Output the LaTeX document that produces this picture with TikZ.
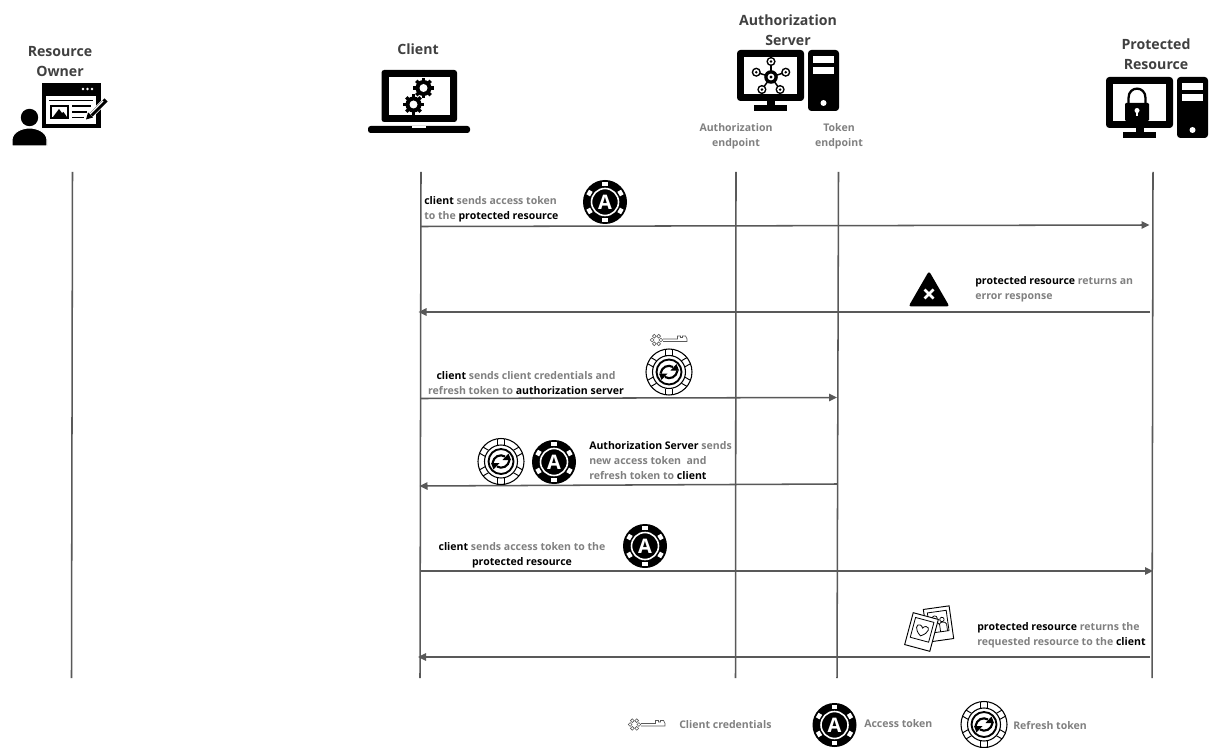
\documentclass[tikz,border=0pt]{standalone}
\usepackage{fontspec}
\setmainfont{Open Sans}
\usetikzlibrary{arrows.meta}
\definecolor{linegray}{HTML}{595959}
\definecolor{txtgray}{HTML}{808080}
\definecolor{titlegray}{HTML}{404040}
\newcommand{\kw}[1]{\textcolor{black}{#1}}
\tikzset{
  lifeline/.style={draw=linegray,line width=1.15pt},
  msg/.style={draw=linegray,line width=1.15pt,-{Triangle[length=6pt,width=5.6pt]}},
  title/.style={text=titlegray,align=center,inner sep=0pt,font=\fontsize{10.6}{15.4}\selectfont\bfseries},
  note/.style={text=txtgray,inner sep=0pt,font=\fontsize{7.9}{11.3}\selectfont\bfseries},
  notel/.style={note,align=left},
  notec/.style={note,align=center},
  pics/access/.style={code={
    \fill[black] (0,0) circle (22);
    \draw[white,line width=1.2pt] (0,0) circle (13.5);
    \foreach \a in {30,90,...,330}{\fill[white,rotate=\a] (15.8,-2.6) rectangle (20,2.6);}
    \node[text=white,inner sep=0pt,font=\fontsize{15}{15}\selectfont\bfseries] at (0,0) {A};
  }},
  pics/refresh/.style={code={
    \draw[black,fill=white,line width=.8pt] (0,0) circle (23);
    \draw[black,line width=.8pt] (0,0) circle (16.5);
    \draw[black,line width=1.4pt] (0,0) circle (12.5);
    \foreach \a in {30,90,...,330}{\draw[black,line width=.7pt,rotate=\a] (16.5,-3.5) -- (23,-3.5) (16.5,3.5) -- (23,3.5);}
    \foreach \r in {0,180}{
      \begin{scope}[rotate=\r]
      \draw[black,line width=1.6pt] (-8.5,1.5) .. controls (-7.5,-5) and (-1,-8) .. (4,-5);
      \fill[black] (1.5,-1.5) -- (10,-1.5) -- (7.5,-8) -- cycle;
      \end{scope}}
  }},
  pics/keyicon/.style={code={
    \foreach \a in {0,60,...,300}{\draw[linegray,line width=.45pt,fill=white] (\a:4.4) circle (1.9);}
    \draw[linegray,line width=.5pt] (6.5,-1) -- (21,-1) -- (21,-4) -- (24,-4) -- (24,-2.5) -- (26,-2.5) -- (26,-4) -- (29,-4) -- (30.5,-1) -- (30.5,1.5) -- (6.5,1.5);
  }},
  pics/gear/.style={code={
    \foreach \a in {0,45,...,315}{\draw[black,line width=2.5pt,rotate=\a] (5,0) -- (10.2,0);}
    \fill[black] (0,0) circle (8);
    \fill[white] (0,0) circle (4);
  }},
  pics/desktop/.style={code={
    \fill[black,rounded corners=2.5pt] (0,0) rectangle (67,51);
    \fill[white] (7,7) rectangle (60,44);
    \fill[black] (30,51) rectangle (38,56);
    \fill[black] (17,55) rectangle (50,61);
    \fill[black,rounded corners=2.5pt] (71,0) rectangle (102,61);
    \fill[white] (76,6) rectangle (97,13);
    \fill[white] (76,17) rectangle (97,24);
    \fill[white] (86.5,53) circle (3);
  }},
}
\begin{document}
\begin{tikzpicture}[x=0.75pt,y=-0.75pt]
\path[use as bounding box,fill=white] (0,0) rectangle (1223,748);

% lifeline ends
\coordinate (roT) at (72.5,172);  \coordinate (roB) at (71.5,678);
\coordinate (cT)  at (421,172);   \coordinate (cB)  at (420,678);
\coordinate (aeT) at (736,172);   \coordinate (aeB) at (735.5,678);
\coordinate (teT) at (838.5,172); \coordinate (teB) at (837,678);
\coordinate (prT) at (1153,172);  \coordinate (prB) at (1152,678);
\draw[lifeline] (roT) -- (roB);
\draw[lifeline] (cT) -- (cB);
\draw[lifeline] (aeT) -- (aeB);
\draw[lifeline] (teT) -- (teB);
\draw[lifeline] (prT) -- (prB);

% messages
\coordinate (m1a) at (421,226.5); \coordinate (m1b) at (1149.5,225);
\coordinate (m2a) at (1150,312);  \coordinate (m2b) at (418.5,312);
\coordinate (m3a) at (421,398.5); \coordinate (m3b) at (837,397.5);
\coordinate (m4a) at (837,484);   \coordinate (m4b) at (419.5,486);
\coordinate (m5a) at (420,571);   \coordinate (m5b) at (1153,571);
\coordinate (m6a) at (1150,657);  \coordinate (m6b) at (418,657);
\draw[msg] (m1a) -- (m1b);
\draw[msg] (m2a) -- (m2b);
\draw[msg] (m3a) -- (m3b);
\draw[msg] (m4a) -- (m4b);
\draw[msg] (m5a) -- (m5b);
\draw[msg] (m6a) -- (m6b);

% titles
\node[title] (tRO) at (60,61.5) {Resource\\Owner};
\node[title] (tC)  at (418,49) {Client};
\node[title] (tAS) at (788,30) {Authorization\\Server};
\node[title] (tPR) at (1156,54) {Protected\\Resource};
\node[notec] (tAE) at (736,136) {Authorization\\endpoint};
\node[notec] (tTE) at (839,136) {Token\\endpoint};

% resource owner icon
\fill[black] (42,83) rectangle (101,128);
\fill[white] (46,96) rectangle (96,124);
\fill[white] (83,89) circle (1.3) (87.5,89) circle (1.3) (92,89) circle (1.3);
\draw[black,line width=1.3pt] (49,100.5) -- (93,100.5) (72,106) -- (91,106) (72,112) -- (87,112) (72,117.5) -- (84,117.5);
\fill[black] (50,105) rectangle (69,119.5);
\fill[white] (52,107) rectangle (67,117.5);
\fill[black] (53,117) -- (59,109) -- (62,113) -- (63.5,112) -- (67,117) -- cycle;
\draw[white,line width=4.4pt] (88,118) -- (106,100);
\draw[black,line width=3.4pt] (91,115) -- (106,100);
\draw[white,line width=1pt] (90,114) -- (103,101);
\fill[black] (86,119.5) -- (88,112.5) -- (93,117.5) -- cycle;
\fill[black,draw=white,line width=.8pt] (12,146) -- (12,140) .. controls (12,132) and (22,128) .. (29.5,128) .. controls (37,128) and (47,132) .. (47,140) -- (47,146) -- cycle;
\fill[black] (29.5,117.5) circle (8.7);

% client icon
\fill[black,rounded corners=2pt] (381.5,70) rectangle (457,122);
\fill[white] (388.5,77) rectangle (450,115);
\fill[black,rounded corners=2pt] (368,126) rectangle (470,133);
\fill[white] (412,126) rectangle (426,128);
\pic at (423.5,88) {gear};
\pic at (413.5,104.5) {gear};

% authorization server icon
\pic at (737,50) {desktop};
\coordinate (nc) at (771,77);
\foreach \a in {90,162,234,306,18}{
  \draw[black,line width=1.1pt] (nc) -- ++(\a+180:15.5);
  \fill[black] (nc) ++(\a+180:15.5) circle (4.6);
  \fill[white] (nc) ++(\a+180:15.5) circle (3);
  \fill[black] (nc) ++(\a+180:15.5) circle (1.4);
}
\fill[black] (nc) circle (6.8);
\fill[white] (nc) circle (3.4);
\fill[black] (nc) circle (1.7);

% protected resource icon
\pic at (1106,77) {desktop};
\draw[black,line width=1.7pt] (1128.5,106) -- (1128.5,98) .. controls (1128.5,85.5) and (1145.5,85.5) .. (1145.5,98) -- (1145.5,106);
\fill[black,rounded corners=.8pt] (1125,103) rectangle (1149,121);
\fill[white] (1137,110.5) circle (2.5);
\fill[white] (1136,110.5) rectangle (1138,116.5);

% message 1
\node[notel,anchor=west] (n1) at (424,209.5) {\kw{client} sends access token\\to the \kw{protected resource}};
\pic at (605,202) {access};

% message 2
\fill[black,rounded corners=2pt] (929,271) -- (949.5,306.5) -- (908.5,306.5) -- cycle;
\draw[white,line width=1.9pt] (924.5,289.5) -- (933.5,298.5) (933.5,289.5) -- (924.5,298.5);
\node[notel,anchor=west] (n2) at (975,289.5) {\kw{protected resource} returns an\\error response};

% message 3
\pic at (656.5,340) {keyicon};
\pic at (669,372) {refresh};
\node[notec] (n3) at (526,383) {\kw{client} sends client credentials and\\refresh token to \kw{authorization server}};

% message 4
\pic at (501,461.5) {refresh};
\pic at (554,462) {access};
\node[notel,anchor=west] (n4) at (589,460.3) {\kw{Authorization Server} sends\\new access token~ and\\refresh token to \kw{client}};

% message 5
\node[notec] (n5) at (522,555.5) {\kw{client} sends access token to the\\\kw{protected resource}};
\pic at (645,546) {access};

% message 6
\begin{scope}[shift={(938.5,624)},rotate=8]
  \draw[black,line width=.7pt,fill=white] (-13,-16.5) rectangle (13,16.5);
  \draw[black,line width=.6pt] (-9.5,-12.5) rectangle (9.5,8);
  \draw[black,line width=.55pt] (-3,-6) circle (2.6) (4,-4) circle (2.2);
  \draw[black,line width=.55pt] (-7,8) -- (-7,1) .. controls (-6,-3) and (0,-3) .. (1,1) -- (1,8) (1,0) .. controls (2,-2) and (7,-2) .. (8,1) -- (8,8);
\end{scope}
\begin{scope}[shift={(921.5,632)},rotate=-15]
  \draw[black,line width=.7pt,fill=white] (-13,-16.5) rectangle (13,16.5);
  \draw[black,line width=.6pt] (-9.5,-12.5) rectangle (9.5,8);
  \draw[black,line width=.6pt] (0,4) .. controls (-8,-1) and (-7,-7) .. (-3,-6.5) .. controls (-1.5,-6.3) and (-.5,-5) .. (0,-4) .. controls (.5,-5) and (1.5,-6.3) .. (3,-6.5) .. controls (7,-7) and (8,-1) .. (0,4) -- cycle;
\end{scope}
\node[notel,anchor=west] (n6) at (977,635.5) {\kw{protected resource} returns the\\requested resource to the \kw{client}};

% legend
\pic at (634.5,724.5) {keyicon};
\node[note,anchor=west] (l1) at (679,724.5) {Client credentials};
\pic at (834.5,725) {access};
\node[note,anchor=west] (l2) at (864,723.5) {Access token};
\pic at (984,724.5) {refresh};
\node[note,anchor=west] (l3) at (1013,725.5) {Refresh token};
\end{tikzpicture}
\end{document}
